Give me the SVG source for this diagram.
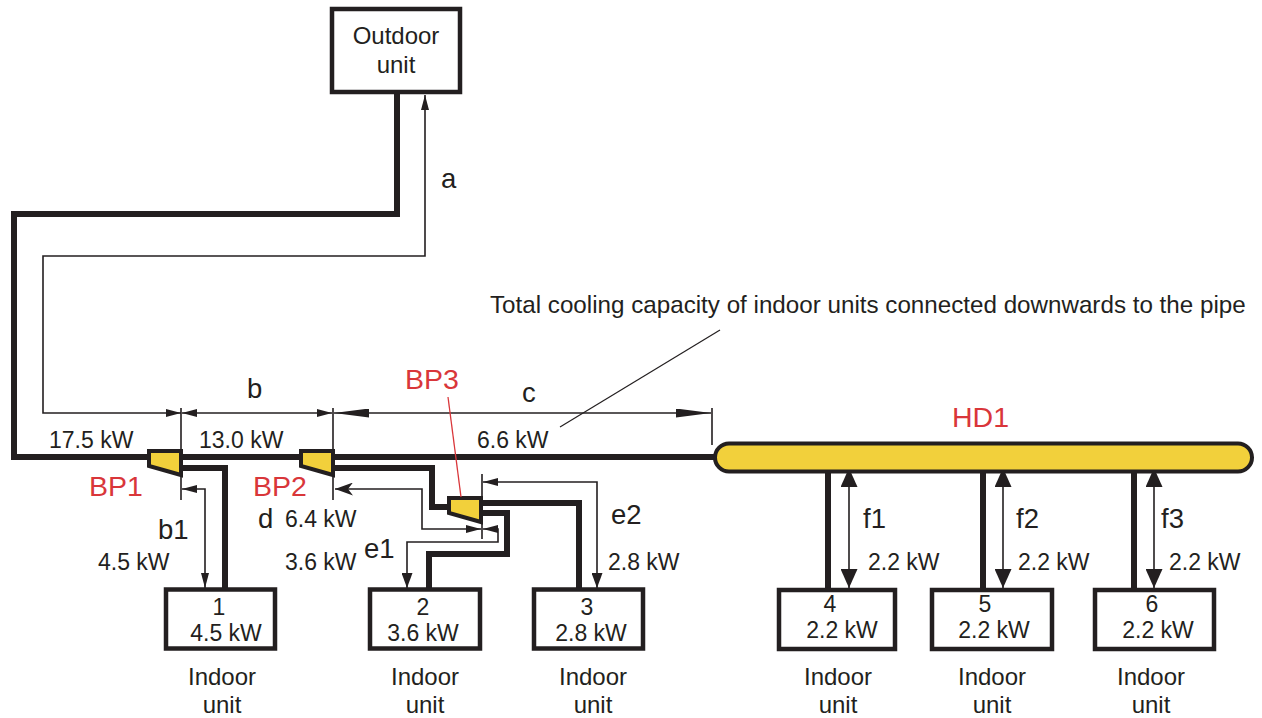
<svg xmlns="http://www.w3.org/2000/svg" width="1262" height="718" viewBox="0 0 1262 718">
<style>
text{font-family:"Liberation Sans",Arial,sans-serif;font-size:23px;fill:#231f20}
.c{text-anchor:middle}
.u{font-size:24px}
.r{fill:#d9363a;font-size:28.500px}
.l{font-size:27.500px}
.t{font-size:24.200px}
.pipe{fill:none;stroke:#231f20;stroke-width:6;stroke-linejoin:miter}
.dim{fill:none;stroke:#231f20;stroke-width:1.6}
.box{fill:#fff;stroke:#231f20;stroke-width:4.500}
.bp{fill:#f2d03b;stroke:#231f20;stroke-width:4}
.sa{fill:#231f20}
</style>
<defs>
<marker id="s" markerUnits="userSpaceOnUse" markerWidth="16" markerHeight="8" refX="15" refY="4" orient="auto-start-reverse"><path d="M0 0L15 4L0 8Z" class="sa"/></marker>
<marker id="m" markerUnits="userSpaceOnUse" markerWidth="16" markerHeight="11" refX="15" refY="5.500" orient="auto-start-reverse"><path d="M0 0L15 5.500L0 11Z" class="sa"/></marker>
<marker id="f" markerUnits="userSpaceOnUse" markerWidth="20" markerHeight="17" refX="19" refY="8.500" orient="auto-start-reverse"><path d="M0 0L19 8.500L0 17Z" class="sa"/></marker>
<marker id="c" markerUnits="userSpaceOnUse" markerWidth="36" markerHeight="9" refX="35" refY="4.500" orient="auto-start-reverse"><path d="M0 0L35 4.500L0 9Z" class="sa"/></marker>
<marker id="d" markerUnits="userSpaceOnUse" markerWidth="19" markerHeight="13" refX="18" refY="6.500" orient="auto-start-reverse"><path d="M0 0L18 6.500L0 13L5 6.500Z" class="sa"/></marker>
</defs>
<g id="connectors">
<path class="pipe" d="M397 94V214H14V457H715"/>
<path class="pipe" d="M183 468H225V588"/>
<path class="pipe" d="M335 468H432V507H449"/>
<path class="pipe" d="M483 503H579V588"/>
<path class="pipe" d="M483 513H507V554H429V588"/>
<path class="pipe" d="M828 472V588M983 472V588M1134 472V588"/>
<path class="dim" d="M181 408V500M333 408V500M482 474V539M712 408V445"/>
<path class="dim" d="M181 413H43V256H425V95" marker-start="url(#s)" marker-end="url(#s)"/>
<path class="dim" d="M182 413H332" marker-start="url(#s)" marker-end="url(#s)"/>
<path class="dim" d="M334 413H711" marker-start="url(#c)" marker-end="url(#c)"/>
<path class="dim" d="M182 489H205V588" marker-start="url(#s)" marker-end="url(#s)"/>
<path class="dim" d="M335 489H422V529H481" marker-start="url(#d)" marker-end="url(#s)"/>
<path class="dim" d="M483 529H498V542H407V588" marker-start="url(#s)" marker-end="url(#m)"/>
<path class="dim" d="M483 482H597V588" marker-start="url(#s)" marker-end="url(#m)"/>
<path class="dim" d="M849 468V588" marker-start="url(#f)" marker-end="url(#f)"/>
<path class="dim" d="M1003 468V588" marker-start="url(#f)" marker-end="url(#f)"/>
<path class="dim" d="M1154 468V588" marker-start="url(#f)" marker-end="url(#f)"/>
<path d="M720 330L560 427" fill="none" stroke="#231f20" stroke-width="1.2"/>
</g>
<g id="outdoor"><rect class="box" x="332" y="9" width="128" height="83"/><text class="c u" x="396" y="44">Outdoor</text><text class="c u" x="396" y="73">unit</text></g>
<g id="bp1"><path class="bp" d="M149 451H181V475L149 466Z"/></g>
<g id="bp2"><path class="bp" d="M301 451H333V475L301 466Z"/></g>
<g id="bp3"><path class="bp" d="M449 498H481V522L449 513Z"/></g>
<g id="hd1"><rect class="bp" x="715" y="443.500" width="537" height="28" rx="14"/></g>
<g id="unit1"><rect class="box" x="166" y="589.500" width="109" height="59"/><text class="c" x="219" y="615">1</text><text class="c" x="226" y="641">4.5 kW</text><text class="c u" x="222" y="685">Indoor</text><text class="c u" x="222" y="713">unit</text></g>
<g id="unit2"><rect class="box" x="370" y="589.500" width="110" height="59"/><text class="c" x="423" y="615">2</text><text class="c" x="423" y="641">3.6 kW</text><text class="c u" x="425" y="685">Indoor</text><text class="c u" x="425" y="713">unit</text></g>
<g id="unit3"><rect class="box" x="534" y="589.500" width="109" height="59"/><text class="c" x="587" y="615">3</text><text class="c" x="591" y="641">2.8 kW</text><text class="c u" x="593" y="685">Indoor</text><text class="c u" x="593" y="713">unit</text></g>
<g id="unit4"><rect class="box" x="779" y="590" width="116" height="59"/><text class="c" x="830" y="612">4</text><text class="c" x="842" y="638">2.2 kW</text><text class="c u" x="838" y="685">Indoor</text><text class="c u" x="838" y="713">unit</text></g>
<g id="unit5"><rect class="box" x="932" y="590" width="120" height="59"/><text class="c" x="985" y="612">5</text><text class="c" x="994" y="638">2.2 kW</text><text class="c u" x="992" y="685">Indoor</text><text class="c u" x="992" y="713">unit</text></g>
<g id="unit6"><rect class="box" x="1095" y="590" width="119" height="59"/><text class="c" x="1152" y="612">6</text><text class="c" x="1158" y="638">2.2 kW</text><text class="c u" x="1151" y="685">Indoor</text><text class="c u" x="1151" y="713">unit</text></g>
<g id="labels">
<path d="M448 397L461 497" fill="none" stroke="#d9363a" stroke-width="1.3"/>
<text class="r" x="89" y="496">BP1</text><text class="r" x="253" y="496">BP2</text><text class="r" x="405" y="389">BP3</text><text class="r" x="952" y="427">HD1</text>
<text class="l" x="441" y="188">a</text><text class="l" x="247" y="398">b</text><text class="l" x="522" y="402">c</text><text class="l" x="158" y="539">b1</text><text class="l" x="258" y="528">d</text><text class="l" x="364" y="558">e1</text><text class="l" x="611" y="524">e2</text><text class="l" x="863" y="528">f1</text><text class="l" x="1016" y="528">f2</text><text class="l" x="1161" y="528">f3</text>
<text x="49" y="448">17.5 kW</text><text x="199" y="448">13.0 kW</text><text x="477" y="448">6.6 kW</text>
<text x="98" y="570">4.5 kW</text><text x="285" y="527">6.4 kW</text><text x="285" y="570">3.6 kW</text><text x="608" y="570">2.8 kW</text>
<text x="868" y="570">2.2 kW</text><text x="1018" y="570">2.2 kW</text><text x="1169" y="570">2.2 kW</text>
<text class="t" x="490" y="313">Total cooling capacity of indoor units connected downwards to the pipe</text>
</g>
</svg>
